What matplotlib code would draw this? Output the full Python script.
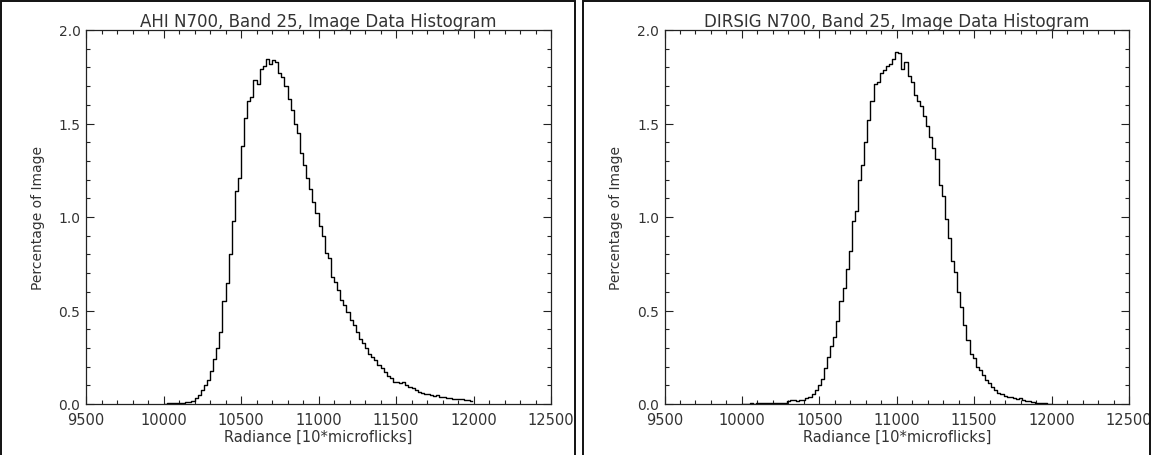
import numpy as np
import matplotlib
matplotlib.use("Agg")
import matplotlib.pyplot as plt
from matplotlib.patches import Rectangle
from matplotlib.ticker import MultipleLocator, FormatStrFormatter

# Histogram of AHI image radiances (bin width 20, bins from 10000 to 12000)
ahi_centers = [10010 + 20 * i for i in range(100)]
ahi_percent = [
    0.000, 0.003, 0.003, 0.004, 0.004, 0.005, 0.008, 0.010, 0.013, 0.018,
    0.030, 0.050, 0.075, 0.100, 0.130, 0.175, 0.240, 0.300, 0.385, 0.550,
    0.645, 0.800, 0.980, 1.140, 1.210, 1.380, 1.530, 1.620, 1.640, 1.730,
    1.710, 1.790, 1.810, 1.845, 1.820, 1.840, 1.830, 1.770, 1.750, 1.700,
    1.630, 1.570, 1.500, 1.450, 1.340, 1.280, 1.210, 1.150, 1.080, 1.020,
    0.950, 0.900, 0.810, 0.780, 0.680, 0.650, 0.610, 0.555, 0.530, 0.490,
    0.450, 0.420, 0.385, 0.350, 0.325, 0.300, 0.270, 0.250, 0.235, 0.210,
    0.190, 0.170, 0.150, 0.140, 0.120, 0.115, 0.110, 0.115, 0.100, 0.093,
    0.085, 0.075, 0.066, 0.060, 0.054, 0.054, 0.048, 0.045, 0.048, 0.040,
    0.040, 0.034, 0.030, 0.028, 0.028, 0.027, 0.027, 0.024, 0.024, 0.018,
]

# Histogram of DIRSIG simulated radiances (bin centres 10000 .. 12000)
dirsig_centers = [10000 + 20 * i for i in range(101)]
dirsig_percent = [
    0.000, 0.002, 0.002, 0.003, 0.002, 0.003, 0.003, 0.004, 0.003, 0.004,
    0.005, 0.004, 0.006, 0.008, 0.007, 0.018, 0.022, 0.020, 0.015, 0.022,
    0.020, 0.030, 0.040, 0.055, 0.075, 0.100, 0.135, 0.190, 0.250, 0.310,
    0.360, 0.445, 0.550, 0.620, 0.720, 0.820, 0.980, 1.030, 1.200, 1.280,
    1.400, 1.520, 1.620, 1.710, 1.720, 1.770, 1.786, 1.806, 1.820, 1.845,
    1.880, 1.875, 1.790, 1.830, 1.756, 1.720, 1.650, 1.620, 1.595, 1.540,
    1.485, 1.430, 1.370, 1.310, 1.170, 1.114, 0.990, 0.890, 0.766, 0.707,
    0.597, 0.520, 0.420, 0.340, 0.270, 0.244, 0.200, 0.180, 0.155, 0.130,
    0.110, 0.090, 0.075, 0.060, 0.055, 0.045, 0.040, 0.035, 0.030, 0.025,
    0.030, 0.022, 0.018, 0.015, 0.012, 0.008, 0.006, 0.004, 0.003, 0.002,
    0.001,
]

titles = [
    "AHI N700, Band 25, Image Data Histogram",
    "DIRSIG N700, Band 25, Image Data Histogram",
]
x_label = "Radiance [10*microflicks]"
y_label = "Percentage of Image"

TEXT = "#333333"
W, H = 1151, 456
fig = plt.figure(figsize=(W / 100, H / 100), dpi=100)
fig.patch.set_facecolor("white")

# frames around each panel
for x0, x1 in [(1, 575), (583, 1150)]:
    fig.add_artist(Rectangle((x0 / W, -0.05), (x1 - x0) / W, 1.05 - 2 / H,
                             transform=fig.transFigure, fill=False,
                             edgecolor="#111111", linewidth=1.4))

panels = [
    (86, 551, ahi_centers, ahi_percent, titles[0]),
    (664.5, 1129, dirsig_centers, dirsig_percent, titles[1]),
]
top_px, bottom_px = 31, 405

for left_px, right_px, xs, ys, title in panels:
    ax = fig.add_axes([left_px / W, 1 - bottom_px / H,
                       (right_px - left_px) / W, (bottom_px - top_px) / H])
    ax.plot(xs, ys, drawstyle="steps-mid", color="black", linewidth=1.0)
    ax.set_xlim(9500, 12500)
    ax.set_ylim(0, 2.0)
    ax.xaxis.set_major_locator(MultipleLocator(500))
    ax.xaxis.set_minor_locator(MultipleLocator(100))
    ax.yaxis.set_major_locator(MultipleLocator(0.5))
    ax.yaxis.set_minor_locator(MultipleLocator(0.1))
    ax.yaxis.set_major_formatter(FormatStrFormatter("%.1f"))
    ax.tick_params(which="both", direction="in", top=True, right=True,
                   color="#222222", width=0.8, labelcolor=TEXT)
    ax.tick_params(which="major", length=6)
    ax.tick_params(which="minor", length=3.2)
    ax.tick_params(axis="x", labelsize=10.5, pad=6)
    ax.tick_params(axis="y", labelsize=10, pad=4)
    for s in ax.spines.values():
        s.set_linewidth(0.9)
        s.set_color("#222222")
    ax.set_title(title, fontsize=12, color=TEXT, pad=3)
    ax.set_xlabel(x_label, fontsize=10.5, color=TEXT, labelpad=1)
    ax.set_ylabel(y_label, fontsize=10, color=TEXT, labelpad=10)

fig.savefig("out.png", dpi=100, facecolor="white")
